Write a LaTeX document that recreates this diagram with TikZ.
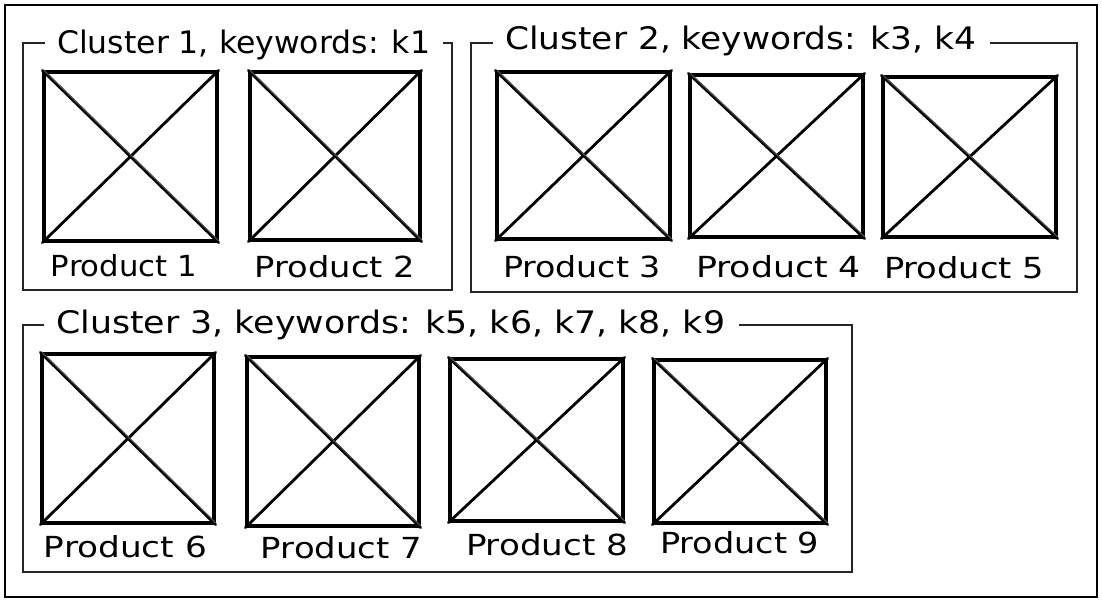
\documentclass[tikz,border=0pt]{standalone}
\usepackage{fontspec}
\setmainfont{DejaVu Sans}
\usetikzlibrary{fit}
\newcommand\wtext[2]{\resizebox{#1pt}{\height}{#2}}
\newcommand\prodframe[5]{%
  \node[pbox, fit={(#2,#3) (#4,#5)}] (#1) {};
  \draw[pdiag] (#1.north west) -- (#1.south east) (#1.north east) -- (#1.south west);
  \draw[psketch] ([xshift=1.8pt]#1.north west) -- ([yshift=1.8pt]#1.south east);
}
\begin{document}
\begin{tikzpicture}[x=1pt,y=-1pt,
  outer/.style={draw, line width=2pt},
  cluster/.style={draw=black!85, line width=1.8pt},
  pbox/.style={draw, line width=3.2pt, inner sep=0pt, line join=round},
  pdiag/.style={line width=2.8pt, line cap=round},
  psketch/.style={line width=1.2pt, black!70},
  ctitle/.style={font=\fontsize{31}{31}\selectfont, inner sep=0pt, anchor=base west},
  plabel/.style={font=\fontsize{29}{29}\selectfont, inner sep=0pt, anchor=base}
]
\useasboundingbox (0,0) rectangle (1102,602);
\draw[outer] (5,5) rectangle (1097,597);

% Cluster 1
\node[ctitle] (t1) at (57,53) {\wtext{373}{Cluster 1, keywords: k1}};
\draw[cluster] (45,43) -| (23,290) -| (452,43) -- (443,43);
\prodframe{b1}{44}{72}{217}{241}
\prodframe{b2}{250}{72}{420}{240}
\node[plabel] (l1) at (124,276) {\wtext{146}{Product 1}};
\node[plabel] (l2) at (335,277) {\wtext{160}{Product 2}};

% Cluster 2
\node[ctitle] (t2) at (505,50) {\wtext{471}{Cluster 2, keywords: k3, k4}};
\draw[cluster] (493,43) -| (471,292) -| (1077,43) -- (990,43);
\prodframe{b3}{497}{72}{670}{239}
\prodframe{b4}{690}{75}{863}{237}
\prodframe{b5}{883}{77}{1056}{237}
\node[plabel] (l3) at (582,277) {\wtext{158}{Product 3}};
\node[plabel] (l4) at (778.5,277) {\wtext{165}{Product 4}};
\node[plabel] (l5) at (964,278) {\wtext{160}{Product 5}};

% Cluster 3
\node[ctitle] (t3) at (56,333) {\wtext{669}{Cluster 3, keywords: k5, k6, k7, k8, k9}};
\draw[cluster] (44,325) -| (23,572) -| (852,325) -- (739,325);
\prodframe{b6}{42}{354}{214}{523}
\prodframe{b7}{247}{357}{419}{526}
\prodframe{b8}{450}{359}{623}{521}
\prodframe{b9}{654}{360}{826}{523}
\node[plabel] (l6) at (125.5,557) {\wtext{163}{Product 6}};
\node[plabel] (l7) at (341.5,558) {\wtext{161}{Product 7}};
\node[plabel] (l8) at (547,555) {\wtext{162}{Product 8}};
\node[plabel] (l9) at (739.5,553) {\wtext{159}{Product 9}};
\end{tikzpicture}
\end{document}
